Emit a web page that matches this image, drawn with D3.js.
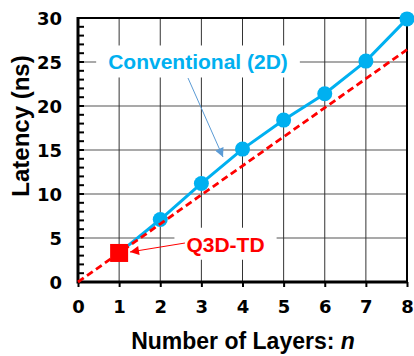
<!DOCTYPE html>
<html>
<head>
<meta charset="utf-8">
<script src="https://cdn.jsdelivr.net/npm/d3@7"></script>
<style>
  html, body { margin: 0; padding: 0; background: #fff; }
  svg { display: block; }
</style>
</head>
<body>
<svg id="chart" width="414" height="356"></svg>
<script>
// ---- data ----
const layers = [1, 2, 3, 4, 5, 6, 7, 8];
const conventional = [3.3, 7.1, 11.2, 15.1, 18.4, 21.4, 25.1, 29.9];
const q3dLine = [[0, 0], [8, 26.4]];
const q3dPoint = [[1, 3.3]];
const xTicks = [0, 1, 2, 3, 4, 5, 6, 7, 8];
const yTicks = [0, 5, 10, 15, 20, 25, 30];
const yMinor = d3.range(0, 31, 1);
const labelConv = "Conventional (2D)";
const labelQ3D = "Q3D-TD";
const xTitle = "Number of Layers: ";
const xTitleVar = "n";
const yTitle = "Latency (ns)";

const blue = "#00B0F0", red = "#FF0000";

const svg = d3.select("#chart");
const L = 78, R = 407, T = 18, B = 282;
const x = d3.scaleLinear().domain([0, 8]).range([L, R]);
const y = d3.scaleLinear().domain([0, 30]).range([B, T]);

// gridlines
const g = svg.append("g");
g.selectAll(".hg").data(yTicks.filter(d => d > 0 && d < 30)).enter().append("line")
  .attr("x1", L).attr("x2", R).attr("y1", d => y(d)).attr("y2", d => y(d))
  .attr("stroke", "#8c8c8c").attr("stroke-width", 1.5);
g.selectAll(".vg").data(xTicks.filter(d => d > 0 && d < 8)).enter().append("line")
  .attr("y1", T).attr("y2", B).attr("x1", d => x(d)).attr("x2", d => x(d))
  .attr("stroke", "#333").attr("stroke-width", 1);

// label backgrounds + labels
function addLabel(text, dx, dy, color, size) {
  const t = svg.append("text").attr("x", x(dx)).attr("y", y(dy))
    .attr("text-anchor", "middle")
    .attr("font-family", "Liberation Sans, Arial, sans-serif")
    .attr("font-weight", "bold").attr("font-size", size)
    .attr("fill", color).text(text);
  const bb = t.node().getBBox();
  svg.insert("rect", () => t.node())
    .attr("x", bb.x - 12).attr("y", bb.y - 5)
    .attr("width", bb.width + 24).attr("height", bb.height + 9)
    .attr("fill", "#fff");
  return t;
}
addLabel(labelConv, 2.918, 24.15, blue, 21);
addLabel(labelQ3D, 3.587, 3.44, red, 21);

// frame: top & right
svg.append("line").attr("x1", L).attr("x2", R).attr("y1", T).attr("y2", T)
  .attr("stroke", "#000").attr("stroke-width", 2);
svg.append("line").attr("x1", R).attr("x2", R).attr("y1", T).attr("y2", B)
  .attr("stroke", "#000").attr("stroke-width", 2);

// y axis
const yAxis = d3.axisLeft(y).tickValues(yTicks).tickSize(0).tickPadding(16);
const ya = svg.append("g").attr("transform", `translate(${L},0)`).call(yAxis);
ya.select(".domain").remove();
ya.selectAll("text").attr("font-family", "DejaVu Sans, sans-serif")
  .attr("font-weight", "bold").attr("font-size", 18).attr("fill", "#000").attr("dy", "0.36em");
svg.append("g").selectAll("line").data(yMinor).enter().append("line")
  .attr("x1", L).attr("x2", L + 6).attr("y1", d => y(d)).attr("y2", d => y(d))
  .attr("stroke", "#000").attr("stroke-width", 2);

// x axis
const xAxis = d3.axisBottom(x).tickValues(xTicks).tickSize(5).tickPadding(13);
const xa = svg.append("g").attr("transform", `translate(0,${B})`).call(xAxis);
xa.select(".domain").remove();
xa.selectAll("line").attr("stroke", "#000").attr("stroke-width", 2);
xa.selectAll("text").attr("font-family", "DejaVu Sans, sans-serif")
  .attr("font-weight", "bold").attr("font-size", 18).attr("fill", "#000");

// main axis lines
svg.append("line").attr("x1", L).attr("x2", L).attr("y1", T - 1).attr("y2", B + 1.5)
  .attr("stroke", "#000").attr("stroke-width", 3);
svg.append("line").attr("x1", L).attr("x2", R + 1).attr("y1", B).attr("y2", B)
  .attr("stroke", "#000").attr("stroke-width", 3);

// conventional series
const line = d3.line().x(d => x(d[0])).y(d => y(d[1]));
const convData = layers.map((n, i) => [n, conventional[i]]);
svg.append("path").datum(convData).attr("d", line)
  .attr("fill", "none").attr("stroke", blue).attr("stroke-width", 3);
svg.append("g").selectAll("circle").data(convData).enter().append("circle")
  .attr("cx", d => x(d[0])).attr("cy", d => y(d[1])).attr("r", 7.5).attr("fill", blue);

// Q3D-TD dashed line and point
svg.append("path").datum(q3dLine).attr("d", line)
  .attr("fill", "none").attr("stroke", red).attr("stroke-width", 2.8)
  .attr("stroke-dasharray", "7,4");
svg.append("g").selectAll("rect").data(q3dPoint).enter().append("rect")
  .attr("x", d => x(d[0]) - 9).attr("y", d => y(d[1]) - 9)
  .attr("width", 18).attr("height", 18).attr("fill", red);

// annotation arrows
const defs = svg.append("defs");
function marker(id, color) {
  defs.append("marker").attr("id", id).attr("viewBox", "0 0 10 10")
    .attr("refX", 10).attr("refY", 5).attr("markerUnits", "userSpaceOnUse")
    .attr("markerWidth", 10).attr("markerHeight", 9).attr("orient", "auto")
    .append("path").attr("d", "M0,0 L10,5 L0,10 Z").attr("fill", color);
}
marker("arrBlue", "#5B9BD5");
marker("arrRed", red);
const convArrow = [[2.675, 23.18], [3.526, 14.2]];
const q3dArrow = [[2.60, 4.43], [1.264, 3.41]];
svg.append("path").datum(convArrow).attr("d", line)
  .attr("stroke", "#5B9BD5").attr("stroke-width", 1).attr("fill", "none")
  .attr("marker-end", "url(#arrBlue)");
svg.append("path").datum(q3dArrow).attr("d", line)
  .attr("stroke", red).attr("stroke-width", 1).attr("fill", "none")
  .attr("marker-end", "url(#arrRed)");

// axis titles
const xt = svg.append("text").attr("x", (L + R) / 2 + 0.5).attr("y", 349)
  .attr("text-anchor", "middle")
  .attr("font-family", "Liberation Sans, Arial, sans-serif")
  .attr("font-weight", "bold").attr("font-size", 23).attr("fill", "#000");
xt.append("tspan").text(xTitle);
xt.append("tspan").attr("font-style", "italic").text(xTitleVar);

svg.append("text").attr("transform", "translate(29,126) rotate(-90)")
  .attr("text-anchor", "middle")
  .attr("font-family", "Liberation Sans, Arial, sans-serif")
  .attr("font-weight", "bold").attr("font-size", 24).attr("fill", "#000")
  .text(yTitle);
</script>
</body>
</html>
